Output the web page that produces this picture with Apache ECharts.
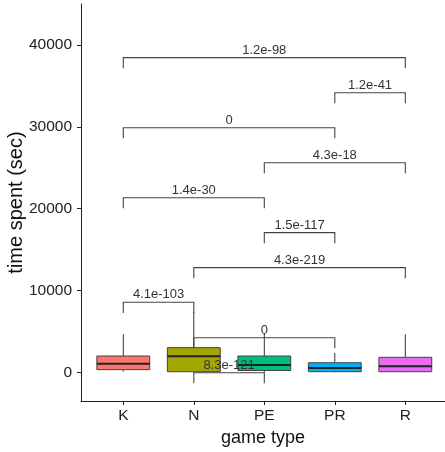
<!DOCTYPE html>
<html><head><meta charset="utf-8">
<script src="https://cdn.jsdelivr.net/npm/echarts@6/dist/echarts.min.js"></script>
<style>html,body{margin:0;padding:0;background:#fff}#c{width:445px;height:452px}</style>
</head><body><div id="c"></div>
<script>
const categories = ['K', 'N', 'PE', 'PR', 'R'];
const boxColors = ['#F8766D', '#A3A500', '#00BF7D', '#00B0F6', '#E76BF3'];
// [min, q1, median, q3, max]
const boxK  = [100, 320, 1050, 1990, 4650];
const boxN  = [0, 70, 1960, 3010, 7400];
const boxPE = [0, 220, 890, 1990, 4770];
const boxPR = [0, 70, 530, 1170, 2360];
const boxR  = [0, 70, 730, 1830, 4650];
const yTicks = [0, 10000, 20000, 30000, 40000];
// brackets: [from category, to category, y, label]
const bracketFrom = ['K', 'PR', 'K', 'PE', 'K', 'PE', 'N', 'K', 'N', 'N'];
const bracketTo   = ['R', 'R', 'PR', 'R', 'PE', 'PR', 'R', 'N', 'PR', 'PE'];
const bracketY    = [38460, 34180, 29900, 25620, 21340, 17070, 12790, 8560, 4230, -50];
const bracketLabel = ['1.2e-98', '1.2e-41', '0', '4.3e-18', '1.4e-30', '1.5e-117', '4.3e-219', '4.1e-103', '0', '8.3e-121'];
const tipLength = 1300;

const boxes = [boxK, boxN, boxPE, boxPR, boxR];
const boxData = boxes.map((b, i) => [i + 1].concat(b));
const bracketData = bracketY.map((y, i) => [categories.indexOf(bracketFrom[i]) + 1, categories.indexOf(bracketTo[i]) + 1, y, bracketLabel[i]]);

const FONT = 'Liberation Sans, Arial, sans-serif';
const chart = echarts.init(document.getElementById('c'));

function renderBox(params, api) {
  const x = api.value(0);
  const w = api.size([0.75, 0])[0];
  const c = v => api.coord([x, v]);
  const pMin = c(api.value(1)), pQ1 = c(api.value(2)), pMed = c(api.value(3)), pQ3 = c(api.value(4)), pMax = c(api.value(5));
  const cx = pMed[0];
  const st = { stroke: '#333', lineWidth: 1 };
  return {
    type: 'group',
    children: [
      { type: 'line', shape: { x1: cx, y1: pMax[1], x2: cx, y2: pQ3[1] }, style: st },
      { type: 'line', shape: { x1: cx, y1: pQ1[1], x2: cx, y2: pMin[1] }, style: st },
      { type: 'rect', shape: { x: cx - w / 2, y: pQ3[1], width: w, height: pQ1[1] - pQ3[1] },
        style: { fill: boxColors[params.dataIndex], stroke: '#444', lineWidth: 1 } },
      { type: 'line', shape: { x1: cx - w / 2, y1: pMed[1], x2: cx + w / 2, y2: pMed[1] }, style: { stroke: '#222', lineWidth: 2 } }
    ]
  };
}

function renderBracket(params, api) {
  const x1 = api.value(0), x2 = api.value(1), y = api.value(2);
  const a = api.coord([x1, y - tipLength]);
  const b = api.coord([x1, y]);
  const cpt = api.coord([x2, y]);
  const d = api.coord([x2, y - tipLength]);
  const label = bracketData[params.dataIndex][3];
  return {
    type: 'group',
    children: [
      { type: 'polyline', shape: { points: [a, b, cpt, d] }, style: { stroke: '#444', lineWidth: 1.1, fill: null } },
      { type: 'text', x: (b[0] + cpt[0]) / 2, y: b[1] - 1,
        style: { text: label, fill: '#333', font: '13px ' + FONT, align: 'center', verticalAlign: 'bottom' } }
    ]
  };
}

chart.setOption({
  animation: false,
  grid: { left: 81, right: 0, top: 4, bottom: 51, outerBoundsMode: 'none', containLabel: false },
  xAxis: {
    type: 'value', min: 0.4, max: 5.563,
    name: 'game type', nameLocation: 'middle', nameGap: 28, nameMoveOverlap: false,
    nameTextStyle: { fontFamily: FONT, fontSize: 18, color: '#111' },
    axisLine: { show: true, onZero: false, lineStyle: { color: '#222', width: 1 } },
    axisTick: { show: true, length: 4, customValues: [1, 2, 3, 4, 5], lineStyle: { color: '#222' } },
    axisLabel: { customValues: [1, 2, 3, 4, 5], formatter: v => categories[Math.round(v) - 1] || '',
      fontFamily: FONT, fontSize: 15.5, color: '#222', margin: 7 },
    splitLine: { show: false }
  },
  yAxis: {
    type: 'value', min: -3510, max: 45020,
    name: 'time spent (sec)', nameLocation: 'middle', nameGap: 55, nameMoveOverlap: false,
    nameTextStyle: { fontFamily: FONT, fontSize: 20, color: '#111' },
    axisLine: { show: true, onZero: false, lineStyle: { color: '#222', width: 1 } },
    axisTick: { show: true, length: 4, customValues: yTicks, lineStyle: { color: '#222' } },
    axisLabel: { customValues: yTicks, formatter: v => String(v), fontFamily: FONT, fontSize: 15.5, color: '#222', margin: 9 },
    splitLine: { show: false }
  },
  series: [
    { type: 'custom', renderItem: renderBox, data: boxData, encode: { x: 0, y: [1, 2, 3, 4, 5] }, z: 2, clip: false },
    { type: 'custom', renderItem: renderBracket, data: bracketData.map(d => d.slice(0, 3)), encode: { x: [0, 1], y: 2 }, z: 3, clip: false }
  ]
});
</script></body></html>
